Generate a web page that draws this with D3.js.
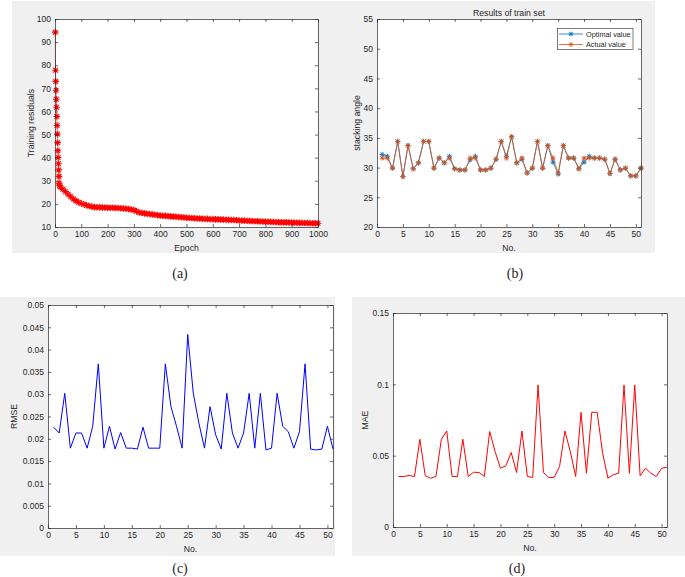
<!DOCTYPE html>
<html>
<head>
<meta charset="utf-8">
<script src="https://cdn.jsdelivr.net/npm/d3@7"></script>
<style>
  body { margin: 0; background: #fff; }
  svg text { font-family: "Liberation Sans", Arial, sans-serif; fill: #262626; }
</style>
</head>
<body>
<svg id="fig" width="685" height="577"></svg>
<script>
// (a) training residuals: first epochs one by one, then every 10th epoch
const earlyEpochs = d3.range(1, 18);
const earlyResidual = [94.3, 77.8, 73.0, 69.2, 65.3, 61.8, 57.8, 53.9, 50.2, 46.5,
    43.0, 40.1, 37.4, 34.7, 31.9, 29.0, 28.0];
const laterEpochs = d3.range(20, 1001, 10);
const laterResidual = [
    27.3, 26.3, 25.3, 24.2, 23.1, 22.1, 21.3, 20.7, 20.2, 19.8,
    19.4, 19.1, 18.8, 18.6, 18.5, 18.5, 18.4, 18.4, 18.3, 18.3,
    18.3, 18.2, 18.2, 18.1, 18.0, 17.9, 17.8, 17.6, 17.3, 16.8,
    16.3, 16.1, 15.9, 15.7, 15.6, 15.4, 15.3, 15.1, 15.0, 14.9,
    14.8, 14.7, 14.6, 14.5, 14.4, 14.3, 14.2, 14.1, 14.0, 13.9,
    13.9, 13.8, 13.7, 13.7, 13.6, 13.5, 13.5, 13.4, 13.4, 13.3,
    13.3, 13.2, 13.2, 13.1, 13.1, 13.0, 13.0, 12.9, 12.8, 12.8,
    12.7, 12.7, 12.6, 12.6, 12.5, 12.5, 12.4, 12.4, 12.3, 12.3,
    12.2, 12.2, 12.1, 12.1, 12.0, 12.0, 12.0, 11.9, 11.9, 11.8,
    11.8, 11.8, 11.7, 11.7, 11.7, 11.6, 11.6, 11.6, 11.6];

// (b) stacking angle, samples 1..51
const sampleNo = d3.range(1, 52);
const optimalValue = [
    32.2, 31.9, 29.9, 34.4, 28.5, 33.7, 29.8, 30.8, 34.4, 34.4,
    29.9, 31.6, 30.8, 31.9, 29.8, 29.6, 29.6, 31.3, 31.9, 29.6,
    29.6, 29.9, 31.4, 34.4, 31.9, 35.2, 30.8, 31.4, 29.1, 29.9,
    34.4, 29.9, 33.7, 30.9, 28.9, 33.7, 31.6, 31.6, 29.8, 30.9,
    31.9, 31.6, 31.6, 31.4, 29.0, 31.4, 29.6, 29.9, 28.6, 28.6,
    29.9];
const actualValue = [
    31.6, 31.6, 29.9, 34.4, 28.5, 33.7, 29.8, 30.8, 34.4, 34.4,
    29.9, 31.6, 30.8, 31.6, 29.8, 29.6, 29.6, 31.6, 31.6, 29.6,
    29.6, 29.9, 31.4, 34.4, 31.6, 35.2, 30.8, 31.6, 29.1, 29.9,
    34.4, 29.9, 33.7, 31.6, 29.1, 33.7, 31.6, 31.6, 29.8, 31.6,
    31.6, 31.6, 31.6, 31.4, 29.0, 31.4, 29.6, 29.9, 28.6, 28.6,
    29.9];

// (c) RMSE
const rmse = [
    0.0226, 0.0213, 0.0302, 0.0179, 0.0213, 0.0213, 0.0179, 0.0228, 0.0368, 0.0179,
    0.0228, 0.0177, 0.0214, 0.0179, 0.0179, 0.0177, 0.0226, 0.0179, 0.0179, 0.0179,
    0.0368, 0.0272, 0.0228, 0.0179, 0.0434, 0.0302, 0.0235, 0.0179, 0.0272, 0.0209,
    0.0177, 0.0302, 0.0213, 0.0179, 0.0213, 0.0302, 0.0179, 0.0302, 0.0175, 0.0179,
    0.0302, 0.0228, 0.0216, 0.0179, 0.0216, 0.0368, 0.0177, 0.0175, 0.0177, 0.0228,
    0.0177];

// (d) MAE
const mae = [
    0.0354, 0.0354, 0.0361, 0.0354, 0.0615, 0.0359, 0.0342, 0.0354, 0.0615, 0.0673,
    0.0354, 0.0354, 0.0615, 0.0354, 0.0384, 0.0382, 0.0354, 0.0669, 0.0529, 0.0412,
    0.0429, 0.0522, 0.0382, 0.0673, 0.0354, 0.0347, 0.0995, 0.0382, 0.0347, 0.0347,
    0.0424, 0.0673, 0.0529, 0.0354, 0.0804, 0.0377, 0.0804, 0.0804, 0.0522, 0.0342,
    0.0366, 0.0377, 0.0995, 0.0377, 0.0995, 0.0359, 0.0412, 0.0377, 0.0354, 0.0412,
    0.0419];

const legendNames = ["Optimal value", "Actual value"];
const panelLetters = ["(a)", "(b)", "(c)", "(d)"];

const axisColor = "#262626";
const blue = "#0072BD", orange = "#D95319";

var svg = d3.select("#fig");

// grey figure backgrounds
svg.append("rect").attr("x", 12).attr("y", 1).attr("width", 643).attr("height", 252).attr("fill", "#f0f0f0");
svg.append("rect").attr("x", 0).attr("y", 297).attr("width", 335).attr("height", 259).attr("fill", "#f0f0f0");
svg.append("rect").attr("x", 352).attr("y", 297).attr("width", 333).attr("height", 259).attr("fill", "#f0f0f0");

// asterisk marker (MATLAB '*')
function star(r) {
    let a = r * 0.72;
    return `M${-r},0H${r}M0,${-r}V${r}M${-a},${-a}L${a},${a}M${-a},${a}L${a},${-a}`;
}

// one MATLAB style axes box
function makeAxes(box, xDomain, yDomain, xTicks, yTicks, yFormat, xLabel, yLabel, yLabelX) {
    let x = d3.scaleLinear().domain(xDomain).range([box.left, box.right]);
    let y = d3.scaleLinear().domain(yDomain).range([box.bottom, box.top]);

    let g = svg.append("g");
    g.append("rect")
        .attr("x", box.left).attr("y", box.top)
        .attr("width", box.right - box.left).attr("height", box.bottom - box.top)
        .attr("fill", "#fff");

    let plot = g.append("g");

    let ax = g.append("g");
    ax.append("g").attr("transform", `translate(0,${box.bottom})`)
        .call(d3.axisBottom(x).tickValues(xTicks).tickSize(-3).tickSizeOuter(0).tickPadding(4).tickFormat(d3.format("d")));
    ax.append("g").attr("transform", `translate(0,${box.top})`)
        .call(d3.axisTop(x).tickValues(xTicks).tickSize(-3).tickSizeOuter(0).tickFormat(""));
    ax.append("g").attr("transform", `translate(${box.left},0)`)
        .call(d3.axisLeft(y).tickValues(yTicks).tickSize(-3).tickSizeOuter(0).tickPadding(4).tickFormat(yFormat));
    ax.append("g").attr("transform", `translate(${box.right},0)`)
        .call(d3.axisRight(y).tickValues(yTicks).tickSize(-3).tickSizeOuter(0).tickFormat(""));

    ax.selectAll(".domain").attr("stroke", axisColor).attr("stroke-width", 0.7);
    ax.selectAll(".tick line").attr("stroke", axisColor).attr("stroke-width", 0.7);
    ax.selectAll(".tick text")
        .attr("font-size", 8.5)
        .attr("font-family", "Liberation Sans, Arial, sans-serif")
        .attr("fill", axisColor);

    g.append("text")
        .attr("x", (box.left + box.right) / 2).attr("y", box.bottom + 23.5)
        .attr("text-anchor", "middle").attr("font-size", 8.7)
        .text(xLabel);
    g.append("text")
        .attr("transform", `translate(${yLabelX},${(box.top + box.bottom) / 2}) rotate(-90)`)
        .attr("text-anchor", "middle").attr("dy", "0.35em").attr("font-size", 8.7)
        .text(yLabel);

    return { x, y, plot, g };
}

// ---------- (a)
var pa = makeAxes({ left: 55, top: 19, right: 318, bottom: 227 }, [0, 1000], [10, 100],
    d3.range(0, 1001, 100), d3.range(10, 101, 10), d3.format("d"),
    "Epoch", "Training residuals", 31);

var residuals = earlyEpochs.map((e, i) => ({ e, v: earlyResidual[i] }))
    .concat(laterEpochs.map((e, i) => ({ e, v: laterResidual[i] })));

pa.plot.append("path")
    .attr("fill", "none")
    .attr("stroke", "#ff0000")
    .attr("stroke-opacity", 0.6)
    .attr("stroke-width", 0.8)
    .attr("d", d3.line().x(d => pa.x(d.e)).y(d => pa.y(d.v))(residuals));

pa.plot.selectAll("path.mk")
    .data(residuals)
    .enter()
    .append("path")
    .attr("class", "mk")
    .attr("transform", d => `translate(${pa.x(d.e)},${pa.y(d.v)})`)
    .attr("d", star(3.3))
    .attr("fill", "none")
    .attr("stroke", "#ff0000")
    .attr("stroke-width", 1.1);

// ---------- (b)
var pb = makeAxes({ left: 377, top: 19, right: 641, bottom: 227 }, [0, 51], [20, 55],
    d3.range(0, 51, 5), d3.range(20, 56, 5), d3.format("d"),
    "No.", "stacking angle", 357);

pb.g.append("text")
    .attr("x", 509).attr("y", 16)
    .attr("text-anchor", "middle").attr("font-size", 8.7)
    .text("Results of train set");

var seriesB = [
    { name: legendNames[0], color: blue, values: optimalValue },
    { name: legendNames[1], color: orange, values: actualValue }
];

seriesB.forEach(s => {
    let pts = sampleNo.map((n, i) => ({ n, v: s.values[i] }));
    pb.plot.append("path")
        .attr("fill", "none")
        .attr("stroke", s.color)
        .attr("stroke-width", 0.8)
        .attr("d", d3.line().x(d => pb.x(d.n)).y(d => pb.y(d.v))(pts));
    pb.plot.selectAll(null)
        .data(pts)
        .enter()
        .append("path")
        .attr("transform", d => `translate(${pb.x(d.n)},${pb.y(d.v)})`)
        .attr("d", star(2.6))
        .attr("fill", "none")
        .attr("stroke", s.color)
        .attr("stroke-width", 0.9);
});

// legend
var lg = pb.g.append("g");
lg.append("rect")
    .attr("x", 557.5).attr("y", 28.5).attr("width", 75.5).attr("height", 21)
    .attr("fill", "#fff").attr("stroke", axisColor).attr("stroke-width", 0.6);
seriesB.forEach((s, i) => {
    let ly = 34 + i * 10.5;
    lg.append("line")
        .attr("x1", 559).attr("x2", 583).attr("y1", ly).attr("y2", ly)
        .attr("stroke", s.color).attr("stroke-width", 0.8);
    lg.append("path")
        .attr("transform", `translate(571,${ly})`)
        .attr("d", star(2.4))
        .attr("fill", "none").attr("stroke", s.color).attr("stroke-width", 0.9);
    lg.append("text")
        .attr("x", 586).attr("y", ly).attr("dy", "0.35em")
        .attr("font-size", 7.3)
        .text(s.name);
});

// ---------- (c)
var pc = makeAxes({ left: 48, top: 305, right: 333, bottom: 528 }, [0, 51], [0, 0.05],
    d3.range(0, 51, 5), d3.range(0, 11).map(k => k * 0.005),
    d => d === 0 ? "0" : d3.format(".3~f")(d),
    "No.", "RMSE", 14);

pc.plot.append("path")
    .attr("fill", "none")
    .attr("stroke", "#0000ff")
    .attr("stroke-width", 1)
    .attr("d", d3.line().x((d, i) => pc.x(sampleNo[i])).y(d => pc.y(d))(rmse));

// ---------- (d)
var pd = makeAxes({ left: 393, top: 313, right: 667, bottom: 527 }, [0, 51], [0, 0.15],
    d3.range(0, 51, 5), [0, 0.05, 0.1, 0.15],
    d => d === 0 ? "0" : d3.format(".2~f")(d),
    "No.", "MAE", 365);

pd.plot.append("path")
    .attr("fill", "none")
    .attr("stroke", "#ff0000")
    .attr("stroke-width", 1)
    .attr("d", d3.line().x((d, i) => pd.x(sampleNo[i])).y(d => pd.y(d))(mae));

// ---------- panel captions
var captionPos = [[180, 273], [515, 273], [180, 568], [517, 568]];
svg.selectAll("text.cap")
    .data(panelLetters)
    .enter()
    .append("text")
    .attr("class", "cap")
    .attr("x", (d, i) => captionPos[i][0])
    .attr("y", (d, i) => captionPos[i][1])
    .attr("dy", "0.35em")
    .attr("text-anchor", "middle")
    .attr("font-size", 14)
    .style("font-family", "'Liberation Serif', 'Times New Roman', serif")
    .text(d => d);
</script>
</body>
</html>
